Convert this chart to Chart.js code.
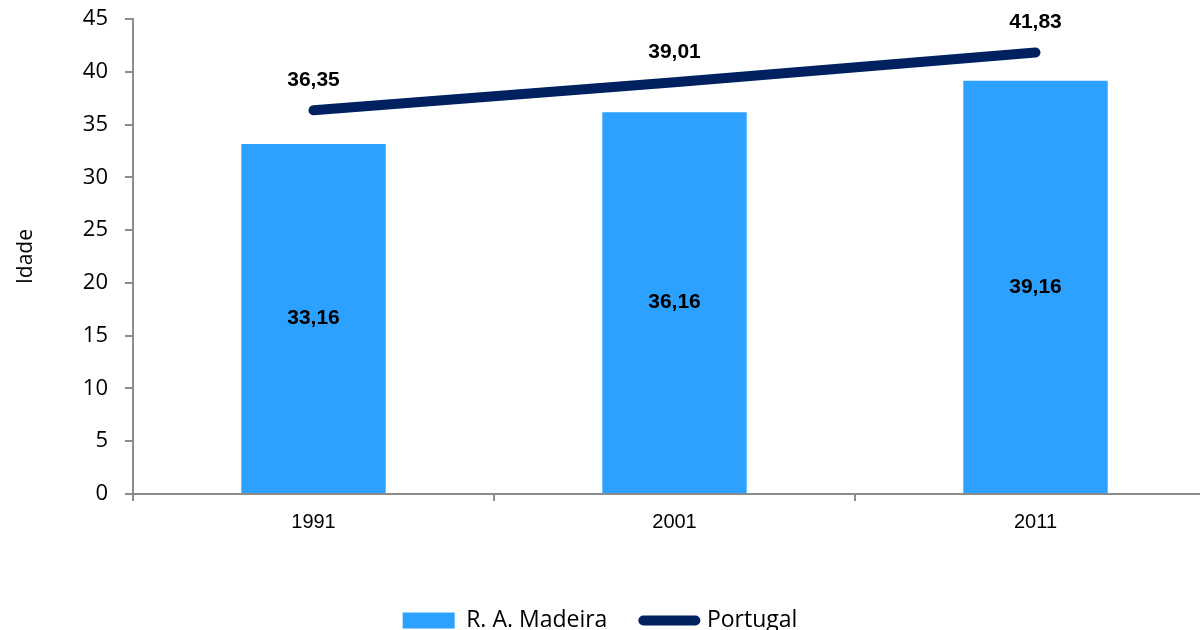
<!DOCTYPE html>
<html>
<head>
<meta charset="utf-8">
<script src="https://cdn.jsdelivr.net/npm/chart.js@4"></script>
<style>
  html, body { margin: 0; padding: 0; background: #fff; overflow: hidden; }
  #wrap { position: absolute; left: -16px; top: 0; width: 1232px; height: 630px; }
</style>
</head>
<body>
<div id="wrap"><canvas id="grafico"></canvas></div>
<script>
const anos = ['1991', '2001', '2011'];
const madeira = [33.16, 36.16, 39.16];
const portugal = [36.35, 39.01, 41.83];
const corBarra = 'rgb(44,161,255)';
const corLinha = 'rgb(0,33,96)';

const fmt = v => v.toFixed(2).replace('.', ',');

// rótulos dos valores
const rotulos = {
  id: 'rotulos',
  afterDatasetsDraw(chart) {
    const c = chart.ctx;
    c.save();
    c.font = 'bold 21px "Liberation Sans", Arial, sans-serif';
    c.fillStyle = '#000';
    c.textAlign = 'center';
    c.textBaseline = 'middle';
    chart.data.datasets.forEach((ds, i) => {
      const meta = chart.getDatasetMeta(i);
      meta.data.forEach((el, j) => {
        const y = ds.type === 'line' ? el.y - 30 : (el.y + el.base) / 2;
        c.fillText(fmt(ds.data[j]), el.x, y);
      });
    });
    c.restore();
  }
};

new Chart(document.getElementById('grafico'), {
  type: 'bar',
  data: {
    labels: anos,
    datasets: [{
      type: 'bar',
      label: 'R. A. Madeira',
      data: madeira,
      backgroundColor: corBarra,
      barPercentage: 0.4,
      categoryPercentage: 1,
      order: 1
    }, {
      type: 'line',
      label: 'Portugal',
      data: portugal,
      borderColor: corLinha,
      backgroundColor: corLinha,
      borderWidth: 10,
      borderCapStyle: 'round',
      pointRadius: 0,
      tension: 0,
      order: 0
    }]
  },
  options: {
    responsive: true,
    maintainAspectRatio: false,
    animation: false,
    layout: { padding: { top: 19, right: 0, bottom: -12, left: 0 } },
    plugins: {
      tooltip: { enabled: false },
      legend: {
        position: 'bottom',
        labels: {
          usePointStyle: true,
          pointStyleWidth: 52,
          boxWidth: 52,
          boxHeight: 16,
          padding: 36,
          color: '#000',
          font: { family: '"Open Sans", sans-serif', size: 23 },
          generateLabels(chart) {
            return chart.data.datasets.map((ds, i) => ({
              text: ds.label,
              datasetIndex: i,
              fillStyle: ds.type === 'line' ? corLinha : corBarra,
              strokeStyle: ds.type === 'line' ? corLinha : corBarra,
              lineWidth: ds.type === 'line' ? 10 : 0,
              lineCap: 'round',
              pointStyle: ds.type === 'line' ? 'line' : 'rect',
              fontColor: '#000'
            }));
          }
        }
      }
    },
    scales: {
      x: {
        grid: { display: true, drawOnChartArea: false, tickLength: 7, color: '#8c8c8c', lineWidth: 2 },
        border: { color: '#8c8c8c', width: 2 },
        ticks: { color: '#000', padding: 9, font: { family: '"Liberation Sans", Arial, sans-serif', size: 20 } },
        afterFit(scale) { scale.height += 30; }
      },
      y: {
        min: 0,
        max: 45,
        ticks: { stepSize: 5, color: '#000', padding: 17, font: { family: '"Open Sans", sans-serif', size: 22 } },
        grid: { display: true, drawOnChartArea: false, tickLength: 8, color: '#8c8c8c', lineWidth: 2 },
        border: { color: '#8c8c8c', width: 2 },
        title: { display: true, text: 'Idade', color: '#000', padding: { top: 29, bottom: 0 }, font: { family: '"Open Sans", sans-serif', size: 21 } },
        afterFit(scale) {
          scale.width = 149;
          scale.paddingTop = 0;
          scale.paddingBottom = 0;
        }
      }
    }
  },
  plugins: [rotulos]
});
</script>
</body>
</html>
